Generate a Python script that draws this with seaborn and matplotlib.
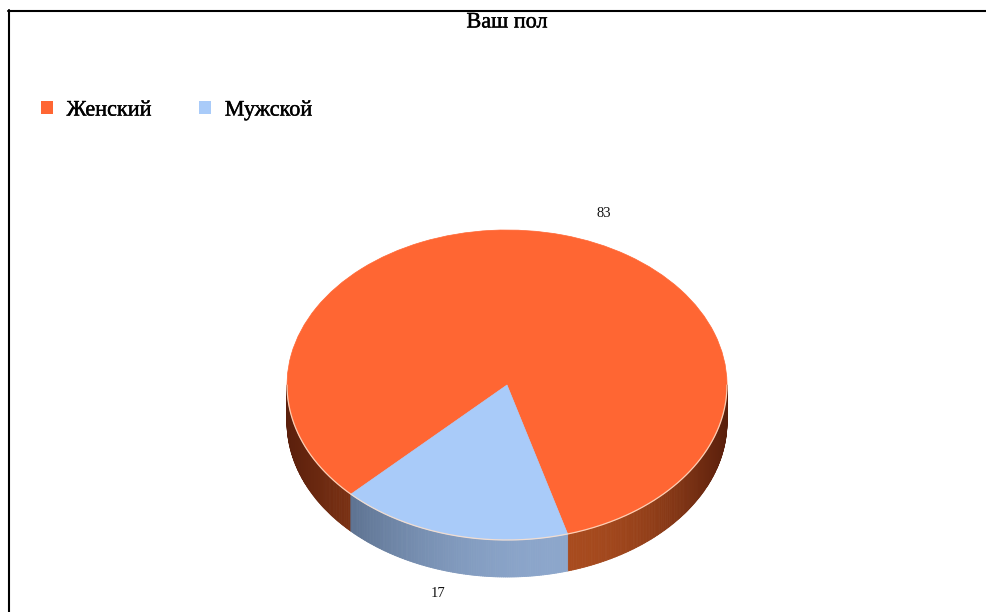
import numpy as np
import matplotlib
matplotlib.use("Agg")
import matplotlib.pyplot as plt
import seaborn as sns
from matplotlib.patches import Patch
from matplotlib.collections import PolyCollection
from matplotlib.lines import Line2D
from matplotlib.colors import to_rgb
import matplotlib.patheffects as pe

# --- data -------------------------------------------------------------
title = "Ваш пол"
categories = ["Женский", "Мужской"]
values = [83, 17]

# --- styling ----------------------------------------------------------
top_colors = ["#FF6633", "#A9CBF9"]
side_dark = ["#5A1F0C", "#3C4E68"]
side_light = ["#A84B1E", "#8CA6CB"]
label_offsets_px = [(41, 22), (-14, -22)]
heavy = [pe.withStroke(linewidth=0.3, foreground="black")]

sns.set_theme(style="white")
plt.rcParams["font.family"] = ["Liberation Serif", "DejaVu Serif"]

W, H = 986, 612
fig = plt.figure(figsize=(W / 100, H / 100), dpi=100)
fig.patch.set_facecolor("white")

# pie geometry (pixels): centre, semi-axes of the tilted top, wall height
cx, cy = 507, 385
rx, ry = 220, 155
depth = 37
pad = 1.1
dy = depth / ry
top_px = cy - pad * ry
bot_px = cy + (pad + dy) * ry
ax = fig.add_axes([(cx - pad * rx) / W, (H - bot_px) / H,
                   2 * pad * rx / W, (bot_px - top_px) / H])

start = 286.0
total = float(sum(values))
edges = start + np.concatenate([[0], np.cumsum(values)]) / total * 360.0


def wall_weight(x):
    # brightness of the side wall across the front, brightest a bit right of centre
    peak = 0.25
    width = np.where(x < peak, 1.25, 0.75)
    return np.clip(1 - ((x - peak) / width) ** 2, 0, 1)


# side walls (front half only)
polys, fcols = [], []
for i in range(len(values)):
    a0, a1 = edges[i], edges[i + 1]
    t = np.radians(np.linspace(a0, a1, int((a1 - a0) * 2) + 2))
    dark = np.array(to_rgb(side_dark[i]))
    light = np.array(to_rgb(side_light[i]))
    for t0, t1 in zip(t[:-1], t[1:]):
        if np.sin(t0) > 1e-9 and np.sin(t1) > 1e-9:
            continue
        s0, s1 = min(np.sin(t0), 0), min(np.sin(t1), 0)
        c0, c1 = np.cos(t0), np.cos(t1)
        polys.append([(c0, s0), (c1, s1), (c1, s1 - dy), (c0, s0 - dy)])
        w = float(wall_weight((c0 + c1) / 2))
        fcols.append(dark + (light - dark) * w)
walls = PolyCollection(polys, facecolors=fcols, edgecolors=fcols,
                       linewidths=0.6, zorder=1)
ax.add_collection(walls)

# top surface
wedges, _ = ax.pie(values, colors=top_colors, startangle=start,
                   counterclock=True, radius=1,
                   wedgeprops=dict(linewidth=0.5))
for wdg, c in zip(wedges, top_colors):
    wdg.set_edgecolor(c)
    wdg.set_zorder(2)

# light rim along the front edge of the top
tt = np.radians(np.linspace(180, 360, 300))
ax.plot(np.cos(tt), np.sin(tt), color="#FFE2CC", lw=0.9, alpha=0.85, zorder=3)

# value labels
for i, v in enumerate(values):
    mid = np.radians((edges[i] + edges[i + 1]) / 2)
    mx, my = np.cos(mid), np.sin(mid)
    if my < 0:
        my -= dy
    ax.annotate(str(v), xy=(mx, my), xytext=label_offsets_px[i],
                textcoords="offset pixels", ha="center", va="center",
                fontsize=10.5, color="#111111", zorder=4)

ax.set_aspect("auto")
ax.set_xlim(-pad, pad)
ax.set_ylim(-(pad + dy), pad)
ax.axis("off")

# title and legend
fig.text(cx / W, 1 - 23 / H, title, ha="center", va="center",
         fontsize=16, color="black", path_effects=heavy)
handles = [Patch(facecolor=c, edgecolor="none", label=l)
           for c, l in zip(top_colors, categories)]
leg = fig.legend(handles=handles, loc="upper left",
                 bbox_to_anchor=(41 / W, 1 - 101 / H), ncol=2, frameon=False,
                 fontsize=16, handlelength=0.55, handleheight=0.55,
                 handletextpad=0.6, columnspacing=2.15,
                 borderpad=0, borderaxespad=0, labelcolor="black")
for txt in leg.get_texts():
    txt.set_path_effects(heavy)

# frame lines
fig.add_artist(Line2D([8.5 / W, 8.5 / W], [0, 1 - 10 / H],
                      color="black", lw=1.5, transform=fig.transFigure))
fig.add_artist(Line2D([7.8 / W, 1], [1 - 10.5 / H, 1 - 10.5 / H],
                      color="black", lw=1.5, transform=fig.transFigure))

fig.savefig("out.png", dpi=100, facecolor="white")
